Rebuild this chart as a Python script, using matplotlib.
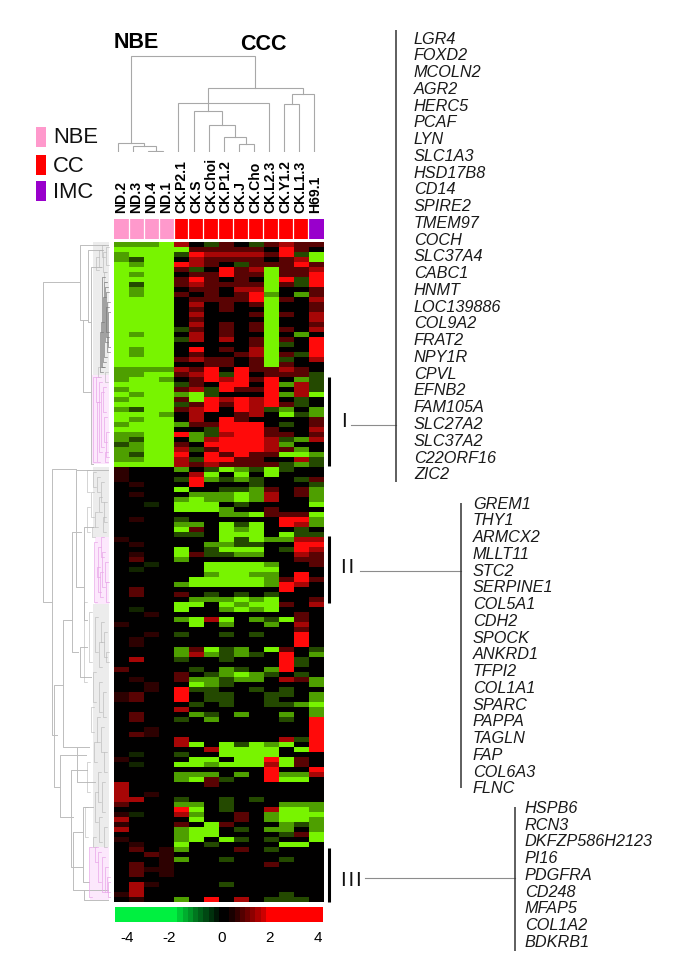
import numpy as np
import matplotlib
matplotlib.use('Agg')
import matplotlib.pyplot as plt
from matplotlib.colors import LinearSegmentedColormap, ListedColormap
from matplotlib.patches import Rectangle

W, H = 685, 972
SANS = ['Liberation Sans', 'DejaVu Sans']

SAMPLES = ['ND.2', 'ND.3', 'ND.4', 'ND.1', 'CK.P2.1', 'CK.S', 'CK.Choi', 'CK.P1.2',
           'CK.J', 'CK.Cho', 'CK.L2.3', 'CK.Y1.2', 'CK.L1.3', 'H69.1']
# 0 NBE, 1 CC, 2 IMC
SAMPLE_TYPE = [0, 0, 0, 0, 1, 1, 1, 1, 1, 1, 1, 1, 1, 2]
TYPE_NAMES = ['NBE', 'CC', 'IMC']
TYPE_COLORS = ['#ff99cc', '#ff0000', '#9900cc']

# heatmap rows, one letter per sample, see LEVELS
HEAT_UPPER = [
    "gggGR.dr.drRrr", "GGGGGrrrrr.Xr.", "gGGGdXRRRRrXdG", "gdGG.Rrrrr.rRG", "GgGGXRr.drrrXr",
    "GGGGrd.XrRGrrR", "GgGG.rrXrrGrrX", "GGGGrXr.r.GXdX", "GdGGrRrrrrGrdX", "GgGG.rr.RRG..r",
    "GgGGr.r.rXg.gr", "GGGG.rrrrXGr.R", "GGGG.R.r.rG..r", "GGGG.r.r..G..r", "GGGG.R...rGr.R",
    "GGGG.r....G..R", "GGGG.R.r.rG..r", "GGGGdr.r.rGr.R", "GgGG.R.r..G.g.", "GGGGdR.R.rGr.X",
    "GGGG.....rGd.X", "GgGG.X.r.RG..X", "GgGG.r..rRGrdX", "GGGGrRrr.rGd.R", "GGGG..rr.rGr..",
    "ggggRrX.XrrRr.", "ggGGrRXdX.rrrd", "gGGg.rXRXrX.gd", "GGGGdr.XX.XgRd", "gGGGrRdXrrX.Rd",
    "GgGGgGd...XgRG", "gGGGrGXRXRX.d.", "GGGGdrXrXRXrd.", "gdGGrRX.XRdg.g", "GGGg.R..rR.Gdg",
    "GgGG.R.Xr....r", "gGGGgrrXXX.d.r", "GGGG..dXXXr..R", "ggGGXgdRXXrr.r", "gdGG.gRXXXRdgR",
    "dgGGr.XXXXRg..", "ggGGRdrXXXRrg.", "gdGGX.XrXrrGGg", "ggGGRdXXrr..Rd", "GGGGRrRrrrrdgd",
]
HEAT_MIDDLE = [
    "q...g.dGgdGd..", "q....RG.G.G...", "q...dXgdgd..dr", ".q...X...d...d", "....G..ddgr.rg",
    ".q...gggGgR.rg", "....gGggGgR..g", "..e.GGG.d....G", "....GGGg..r...", ".......ggGrrrG",
    ".q..d......XXg", "....gg.GdG.XRg", "....Gr.GgG..d.", "....dd.GGG.Gdd", "q......GdGggRR",
    ".q....ggdd..XX", "....G.dGGG.dXR", ".q..Grddgg..Rr", ".r..g.......rr", "..e...GGGGg..r",
    ".e....GGGGG...", "......gGGgg.X.", ".....GGGGGgrXr", "....gGGGGGgXR.", ".r.........X..",
    ".r..r.d.d.d...", ".....gggGgG..r", "....GG.GgGGr.R", ".e..G..gGgG...", "..q.........r.",
    "....gGRG.gdGr.", "q....G.g..g.R.", "............r.", "..q.d..d.d..X.", ".q..........X.",
    ".q..........X.", "....grGdg.Gr.d", "....gRgdgd.X.g", ".R..d..d...Xd.", "...........Xd.",
    "r....d.gd.gX..", "....r.dgGgd.d.", ".q..rggdgg.Rrg", "..q..Ggd.....g", "..q.Xdd..d.d..",
    "qr..X.dd..dd.g",
]
HEAT_LOWER = [
    "qr..X.dd..d..g", ".....d.d..ddgG", "....R........g", ".r...gd.g..g.g", ".r..d.g....d.X",
    ".............X", "..q..........X", ".rq..........X", "....R......RdX", "....RG.GdGgG.X",
    "......RGGGG.GX", ".e..d..GGGG...", "q....GG.GGXGr.", ".e..GGgGGGRGr.", "..........X..X",
    "....ggg.g.XggR", "....gGrd..XGG.", "R.....r.......", "R.............", "R.q...........",
    "RR..d..d.d....", "r...gg.d...ggg", "....XG.d..RGGg", "qe..Rg..r.gGGG", "R....G..r.gGGg",
    "q...r.Gr...gdg", "R...gGG.d.gg.g", "....gGG....drG", "q...gG.Gd.d..G", ".q..G.d....GG.",
    ".r.qg...r.d...", "..rq..........", "...qg..d...d..", ".r.q......r...", ".rqq..........",
    ".r.q..........", "..............", ".Rq....d......", ".R............", "qR.........d..",
    ".q..g.X.R.ddd.",
]
LEVELS = {'G': -4.0, 'g': -2.6, 'd': -1.2, 'e': -0.6, '.': 0.0, 'q': 0.7, 'r': 1.4, 'R': 2.6, 'X': 4.0}

CBAR_VALUES = [-4, -4, -4, -4, -4, -4, -4, -4, -4, -4, -4, -4, -3.4, -2.9, -2.5, -2.0, -1.6, -1.2,
               -0.8, -0.4, 0, 0, 0.4, 0.8, 1.3, 1.7, 2.2, 2.7, 3.2, 4, 4, 4, 4, 4, 4, 4, 4, 4, 4, 4]
CBAR_TICKS = [-4, -2, 0, 2, 4]

GENES_I = ['LGR4', 'FOXD2', 'MCOLN2', 'AGR2', 'HERC5', 'PCAF', 'LYN', 'SLC1A3', 'HSD17B8', 'CD14',
           'SPIRE2', 'TMEM97', 'COCH', 'SLC37A4', 'CABC1', 'HNMT', 'LOC139886', 'COL9A2', 'FRAT2',
           'NPY1R', 'CPVL', 'EFNB2', 'FAM105A', 'SLC27A2', 'SLC37A2', 'C22ORF16', 'ZIC2']
GENES_II = ['GREM1', 'THY1', 'ARMCX2', 'MLLT11', 'STC2', 'SERPINE1', 'COL5A1', 'CDH2', 'SPOCK',
            'ANKRD1', 'TFPI2', 'COL1A1', 'SPARC', 'PAPPA', 'TAGLN', 'FAP', 'COL6A3', 'FLNC']
GENES_III = ['HSPB6', 'RCN3', 'DKFZP586H2123', 'PI16', 'PDGFRA', 'CD248', 'MFAP5', 'COL1A2', 'BDKRB1']

# sample tree: left leaf pos, right leaf pos, height, left end height, right end height
TOP_TREE = [
    (2.0, 3.0, 1, 0, 0), (1.0, 2.5, 6, 0, 1), (0.0, 1.75, 8.3, 0, 6),
    (8.0, 9.0, 7.7, 0, 0), (7.0, 8.5, 15, 0, 7.7), (6.0, 7.75, 27, 0, 15), (5.0, 6.88, 41, 0, 27),
    (4.0, 10.0, 49, 0, 0), (11.0, 12.0, 48, 0, 0), (11.5, 13.0, 58, 48, 0),
    (5.94, 12.25, 64, 41, 58), (0.88, 9.1, 96, 8.3, 64),
]

# gene tree, rows and distance from the heatmap: row a, row b, dist, end dist a, end dist b
LEFT_MAJOR = [
    (8, 72, 68, 31, 59), (0.6, 15.6, 31, 3, 28), (15.6, 30, 28, 23, 20), (1.6, 16, 23, 8, 20),
    (5, 44.4, 20, 10, 18), (45.4, 98.6, 59, 35, 54), (45.6, 69, 35, 3, 27), (57, 75.5, 27, 18, 24),
    (88.6, 109, 57, 48, 51), (75.6, 101, 48, 39, 34), (58, 82, 39, 30, 33), (81, 87, 31, 24, 20),
    (102.6, 115, 51, 25, 38), (105.6, 125, 40, 24, 28), (118, 129.6, 38, 28, 27),
    (113, 128, 28, 18, 22), (129.6, 131.6, 27, 3, 3), (101, 108, 34, 22, 16),
]
LEFT_GREY = [
    (0.6, 3, 9), (1, 4.5, 5), (1.6, 5, 12), (3, 5.5, 15), (2, 6, 8), (6, 8, 7), (26, 28, 6), (25, 27, 13),
    (45.5, 50, 24), (46, 49, 18), (47, 50, 14), (48, 52, 10), (50, 55, 20), (51, 54, 12), (52, 56, 7),
    (53, 58, 24), (54, 57, 16), (55, 58, 8), (57, 59, 19), (72, 88, 27), (74, 84, 22), (75, 82, 16),
    (76, 80, 10), (78, 83, 7), (80, 85, 12), (82, 84, 5), (86, 92, 18), (88, 94, 12), (90, 95, 8),
    (93, 98, 20), (95, 100, 14), (97, 102, 10), (100, 104, 17), (102, 106, 7), (104, 110, 24),
    (106, 112, 13), (108, 114, 9), (110, 116, 16), (113, 119, 26), (115, 120, 12), (117, 121, 7),
    (119, 121, 18),
]
LEFT_DARK = [
    (7, 25, 9), (8, 23, 7.5), (9, 20, 6.5), (10, 18, 5.5), (11, 24, 8), (12, 22, 4.5), (14, 21, 3.5),
    (13, 19, 5), (16, 25, 10), (18, 26, 11),
]
LEFT_PINK = [
    (27, 44, 18.5), (28, 42, 12), (30, 41, 10), (27, 32, 15), (32, 44, 14), (29, 34, 8), (35, 40, 7),
    (38, 43, 5), (42, 44, 6), (60, 72, 17), (61, 70, 13), (62, 69, 9), (64, 68, 6), (59, 63, 10),
    (66, 71, 11), (68, 72, 5), (65, 67, 14), (121, 131, 22), (122, 128, 13), (123, 130, 9),
    (125, 130, 6), (127, 130, 4), (128, 131, 3), (121, 124, 16),
]
# shaded bands behind the tree: first row, last row, depth
BAND_GREY = [(0, 26.6, 18), (45, 59, 18), (72.3, 121, 18)]
BAND_PINK = [(26.6, 44.4, 19), (59, 72.3, 16), (121, 131.6, 21)]


def px_axes(fig, x0, y0, x1, y1):
    return fig.add_axes([x0 / W, 1 - y1 / H, (x1 - x0) / W, (y1 - y0) / H])


fig = plt.figure(figsize=(W / 100, H / 100), dpi=100, facecolor='white')

# heatmap
rows = HEAT_UPPER + HEAT_MIDDLE + HEAT_LOWER
matrix = np.array([[LEVELS[c] for c in r] for r in rows])
heat_cmap = LinearSegmentedColormap.from_list('heat', ['#78f400', '#000000', '#ff0a0a'])
ax_heat = px_axes(fig, 113.7, 242, 323, 902)
ax_heat.imshow(matrix, cmap=heat_cmap, vmin=-4, vmax=4, aspect='auto', interpolation='nearest')
ax_heat.axis('off')

# sample colour strip with labels
ax_ann = px_axes(fig, 113.7, 219, 323, 239)
ax_ann.imshow([SAMPLE_TYPE], cmap=ListedColormap(TYPE_COLORS), vmin=0, vmax=2, aspect='auto')
for i in range(1, len(SAMPLES)):
    ax_ann.axvline(i - 0.5, color='white', lw=0.9)
ax_ann.xaxis.tick_top()
ax_ann.set_xticks(range(len(SAMPLES)))
ax_ann.set_xticklabels(SAMPLES, rotation=90, family=SANS, fontweight='bold', fontsize=10.1)
ax_ann.tick_params(length=0, pad=4.5)
ax_ann.set_yticks([])
for s in ax_ann.spines.values():
    s.set_visible(False)

# sample dendrogram
ax_top = px_axes(fig, 110, 52, 322, 151.7)
for a, b, h, ha, hb in TOP_TREE:
    ax_top.plot([a, a, b, b], [ha, h, h, hb], color='#a8a8a8', lw=0.8, solid_joinstyle='miter')
ax_top.set_xlim((110 - 118) / 15.1, (322 - 118) / 15.1)
ax_top.set_ylim(0, 99.7)
ax_top.axis('off')

# gene dendrogram, same rows as the heatmap
ax_left = px_axes(fig, 40, 242, 111, 902)
for r0, r1, d in BAND_GREY:
    ax_left.fill_betweenx([r0, r1], 2.5, d, color='#ececec', lw=0)
for r0, r1, d in BAND_PINK:
    ax_left.fill_betweenx([r0, r1], 2.5, d, color='#fce8fc', lw=0)
for a, b, d, da, db in LEFT_MAJOR:
    ax_left.plot([da, d, d, db], [a, a, b, b], color='#bdbdbd', lw=0.7)
for tree, color, lw in [(LEFT_GREY, '#b4b4b4', 0.4), (LEFT_PINK, '#e9a6e9', 0.5), (LEFT_DARK, '#777777', 0.45)]:
    for a, b, d in tree:
        ax_left.plot([d - 3, d, d, d - 3], [a, a, b, b], color=color, lw=lw)
ax_left.set_xlim(71, 0)
ax_left.set_ylim(132, 0)
ax_left.axis('off')

# colour scale
cbar_cmap = LinearSegmentedColormap.from_list('bar', ['#00f040', '#000000', '#ff0000'])
ax_cbar = px_axes(fig, 115, 907.3, 323, 922.3)
ax_cbar.imshow([CBAR_VALUES], cmap=cbar_cmap, vmin=-4, vmax=4, aspect='auto', interpolation='nearest')
ax_cbar.set_xticks([1.8, 9.9, 20.1, 29.3, 38.5])
ax_cbar.set_xticklabels(CBAR_TICKS, family=SANS, fontsize=11)
ax_cbar.tick_params(length=0, pad=6)
ax_cbar.set_yticks([])
for s in ax_cbar.spines.values():
    s.set_visible(False)

# page level annotations in pixel units
page = fig.add_axes([0, 0, 1, 1], zorder=5)
page.set_xlim(0, W)
page.set_ylim(H, 0)
page.axis('off')

page.text(114, 42.5, 'NBE', family=SANS, fontweight='bold', fontsize=15.5, va='center')
page.text(240.5, 44.5, 'CCC', family=SANS, fontweight='bold', fontsize=15.5, va='center')

for name, color, y, ty in zip(TYPE_NAMES, TYPE_COLORS, [137.3, 165, 191], [137.5, 166, 192]):
    page.add_patch(Rectangle((35.7, y - 10), 10.6, 20, color=color, lw=0))
    page.text(53.3, ty, name, family=SANS, fontsize=15.8, va='center', color='#111111')

for x, y0, y1 in [(329, 376.7, 465.7), (329.5, 536, 603), (329.5, 847.7, 902)]:
    page.plot([x, x], [y0, y1], color='black', lw=2.2, solid_capstyle='butt')

for label, x, y in [('I', 341, 421.5), ('II', 341, 567.5), ('III', 341, 880)]:
    page.text(x, y, '\u200a'.join(label), family=SANS, fontsize=15, va='center', color='#111111')

for x0, x1, y in [(351, 396, 425), (360, 461, 570.7), (365, 515, 878)]:
    page.plot([x0, x1], [y, y], color='#8c8c8c', lw=0.8)

for x, y0, y1 in [(396, 30, 482), (460.7, 503, 788), (515, 806.7, 950.7)]:
    page.plot([x, x], [y0, y1], color='#333333', lw=1.1, solid_capstyle='butt')

for genes, x, y0 in [(GENES_I, 414, 39), (GENES_II, 473, 504), (GENES_III, 525, 808.3)]:
    for i, gene in enumerate(genes):
        page.text(x, y0 + i * 16.76, gene, family=SANS, style='italic', fontsize=11.7,
                  va='center', color='#1a1a1a')

fig.savefig('out.png', dpi=100)
plt.close(fig)
